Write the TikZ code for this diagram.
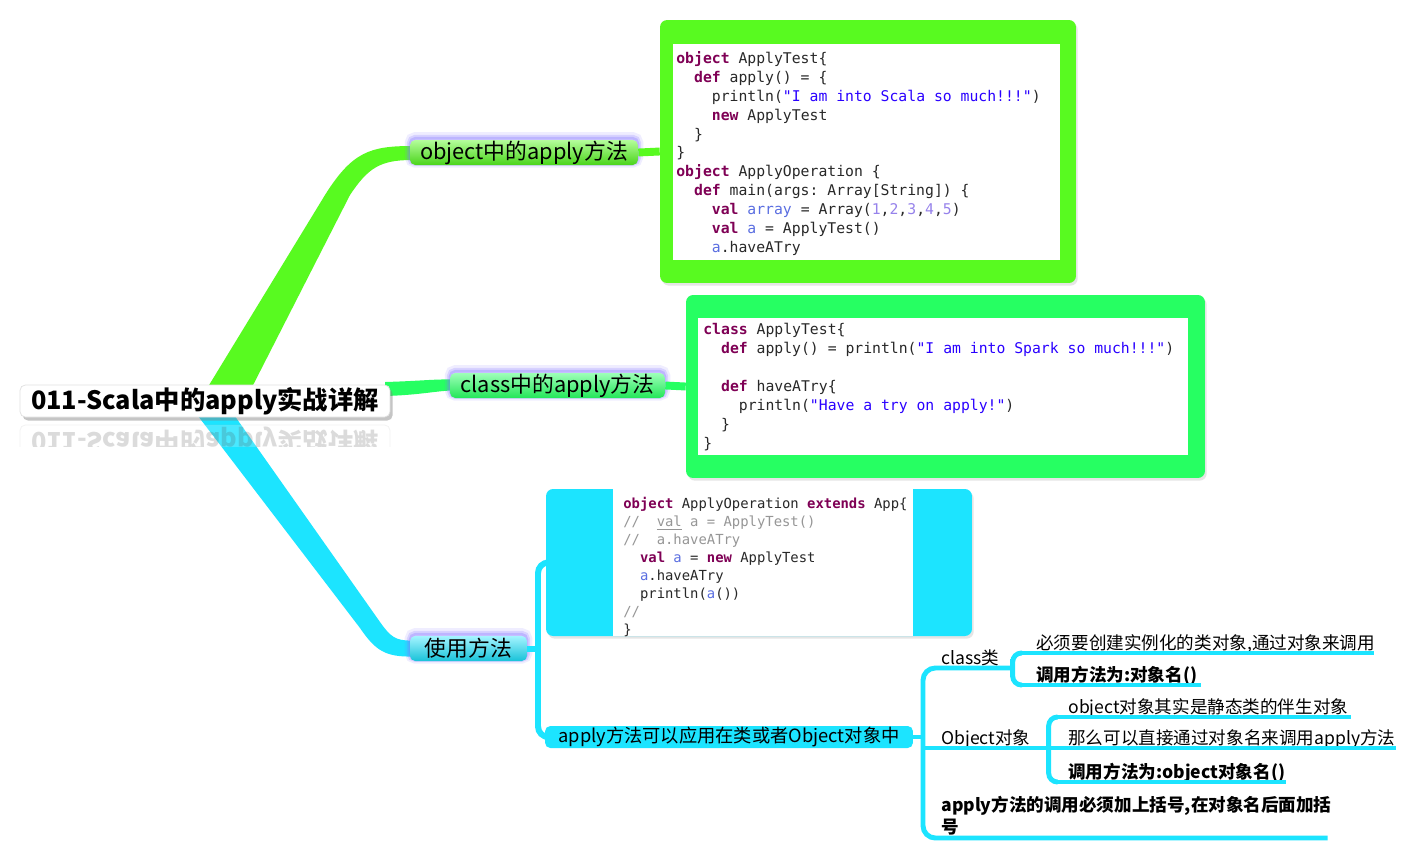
\documentclass[tikz,border=0pt]{standalone}
\usepackage{fontspec}
\setmainfont{Noto Sans CJK SC}
\setmonofont{DejaVu Sans Mono}
\usepackage{tikz}
\usetikzlibrary{positioning, calc, shadows}
\definecolor{grnA}{RGB}{88,250,32}
\definecolor{grnB}{RGB}{38,255,98}
\definecolor{cyn}{RGB}{28,228,255}
\definecolor{glowc}{RGB}{130,115,255}
\definecolor{kwc}{RGB}{127,0,85}
\definecolor{strc}{RGB}{42,0,255}
\definecolor{vrbc}{RGB}{90,110,225}
\definecolor{numc}{RGB}{150,130,235}
\definecolor{cmtc}{RGB}{150,150,150}
\definecolor{codec}{RGB}{40,40,40}
\newcommand{\kwd}[1]{\textcolor{kwc}{\bfseries #1}}
\newcommand{\strg}[1]{\textcolor{strc}{#1}}
\newcommand{\vrb}[1]{\textcolor{vrbc}{#1}}
\newcommand{\numb}[1]{\textcolor{numc}{#1}}
\newcommand{\cmt}[1]{\textcolor{cmtc}{#1}}
\tikzstyle{rootbox} = [rectangle, rounded corners=3pt, fill=white, minimum width=7.4cm, minimum height=0.64cm, inner sep=0pt, font=\fontsize{14.4}{17}\selectfont\bfseries]
\tikzstyle{topic} = [rectangle, rounded corners=3pt, minimum height=0.5cm, inner sep=0pt, font=\fontsize{12.4}{14}\selectfont, preaction={draw=glowc, line width=6pt, draw opacity=0.12, transform canvas={yshift=1.5pt}}, preaction={draw=glowc, line width=3.5pt, draw opacity=0.22, transform canvas={yshift=1.2pt}}, preaction={draw=glowc, line width=1.5pt, draw opacity=0.3, transform canvas={yshift=1pt}}]
\tikzstyle{codebox} = [rectangle, rounded corners=4pt, inner sep=0pt, drop shadow={opacity=0.2, shadow xshift=1pt, shadow yshift=-1.5pt}]
\tikzstyle{codetext} = [anchor=north west, inner sep=0pt, align=left, text=codec, font=\ttfamily\fontsize{8.4}{10.77}\selectfont]
\tikzstyle{leafbase} = [anchor=south west, inner ysep=0.4pt, align=left, font=\fontsize{10}{13}\selectfont]
\tikzstyle{leaf} = [leafbase, text depth=1.5pt]
\tikzstyle{leafb} = [leaf, font=\fontsize{10}{13}\selectfont\bfseries]
\tikzstyle{ul} = [cyn, line width=2.8pt]
\tikzstyle{link} = [line width=4.5pt]

\begin{document}
\begin{tikzpicture}[x=0.02cm, y=-0.02cm]
	\fill[white] (0,0) rectangle (1416,860);
	\useasboundingbox (0,0) rectangle (1416,860);

	\node (box1) [codebox, fill=grnA, minimum width=8.32cm, minimum height=5.26cm] at (868,151.5) {};
	\fill[white] (673,44) rectangle (1060,260);
	\node (code1) [codetext] at (676,51) {\kwd{object} ApplyTest\{\\
\ \ \kwd{def} apply() = \{\\
\ \ \ \ println(\strg{"I am into Scala so much!!!"})\\
\ \ \ \ \kwd{new} ApplyTest\\
\ \ \}\\
\}\\
\kwd{object} ApplyOperation \{\\
\ \ \kwd{def} main(args: Array[String]) \{\\
\ \ \ \ \kwd{val} \vrb{array} = Array(\numb{1},\numb{2},\numb{3},\numb{4},\numb{5})\\
\ \ \ \ \kwd{val} \vrb{a} = ApplyTest()\\
\ \ \ \ \vrb{a}.haveATry};

	\node (box2) [codebox, fill=grnB, minimum width=10.38cm, minimum height=3.66cm] at (945.5,386.5) {};
	\fill[white] (698,318) rectangle (1188,455);
	\node (code2) [codetext] at (703,323) {\kwd{class} ApplyTest\{\\
\ \ \kwd{def} apply() = println(\strg{"I am into Spark so much!!!"})\\
\mbox{}\\
\ \ \kwd{def} haveATry\{\\
\ \ \ \ println(\strg{"Have a try on apply!"})\\
\ \ \}\\
\}};

	\node (box3) [codebox, fill=cyn, minimum width=8.52cm, minimum height=2.94cm] at (759,562.5) {};
	\fill[white] (613,489) rectangle (913,636);
	\node (code3) [codetext, font=\ttfamily\fontsize{7.9}{10.2}\selectfont] at (623,497) {\kwd{object} ApplyOperation \kwd{extends} App\{\\
\cmt{//\ \ \underline{val} a = ApplyTest()}\\
\cmt{//\ \ a.haveATry}\\
\ \ \kwd{val} \vrb{a} = \kwd{new} ApplyTest\\
\ \ \vrb{a}.haveATry\\
\ \ println(\vrb{a}())\\
\cmt{//}\\
\}};

	\fill[grnA] (203,395) -- (325,195) .. controls (352,152) and (370,146) .. (412,146) -- (412,160) .. controls (380,160) and (368,168) .. (350,195) -- (248,395) -- cycle;
	\fill[grnB] (385,382) .. controls (420,381) and (435,379) .. (452,379.5) -- (452,390.5) .. controls (435,391) and (420,395) .. (385,396) -- cycle;
	\fill[cyn] (195,412) -- (360,628) .. controls (375,650) and (385,657) .. (412,656.5) -- (412,640.5) .. controls (395,641) and (390,636) .. (380,622) -- (232,412) -- cycle;

	\node (root) [rootbox, draw=black!12, drop shadow={opacity=0.45, shadow xshift=1.5pt, shadow yshift=-2pt}] at (205,401) {011-Scala中的apply实战详解};
	\begin{scope}
		\clip (16,421) rectangle (394,446);
		\begin{scope}[shift={(0,842)}, yscale=-1]
			\node (rootrefl) [rootbox, transform shape, draw=gray!50, text=black!70, opacity=0.2] at (205,401) {011-Scala中的apply实战详解};
		\end{scope}
	\end{scope}

	\node (l1) [topic, top color=grnA!45!white, bottom color=grnA!85!black, minimum width=4.56cm] at (524,152.5) {object中的apply方法};
	\node (l2) [topic, top color=grnB!45!white, bottom color=grnB!90!black, minimum width=4.3cm] at (557.5,385.5) {class中的apply方法};
	\node (l3) [topic, top color=cyn!40!white, bottom color=cyn!85!black, minimum width=2.34cm] at (468.5,648.5) {使用方法};
	\node (l4) [rectangle, rounded corners=3pt, fill=cyn, minimum width=7.36cm, minimum height=0.44cm, inner sep=0pt, font=\fontsize{10.4}{12}\selectfont] at (729,737) {apply方法可以应用在类或者Object对象中};

	\draw [link, grnA] (l1.east) -- (box1.west);
	\draw [link, grnB] (l2.east) -- (box2.west);
	\coordinate (j3) at (538,648.5);
	\draw [cyn, line width=3.4pt] (l3.east) -- (j3);
	\draw [cyn, line width=3.4pt, rounded corners=6pt] (box3.west) -| (j3) |- (l4.west);

	\node (cls) [leaf, text width=1.06cm, inner xsep=0.36cm] at (923,668) {class类};
	\node (c1a) [leaf, text width=6.46cm, inner xsep=0.28cm] at (1022,653) {必须要创建实例化的类对象,通过对象来调用};
	\node (c1b) [leafb, text width=3.0cm, inner xsep=0.28cm] at (1022,685) {调用方法为:对象名()};
	\node (obj) [leaf, text width=1.78cm, inner xsep=0.36cm] at (923,748) {Object对象};
	\node (o1) [leaf, text width=5.4cm, inner xsep=0.24cm] at (1056,717) {object对象其实是静态类的伴生对象};
	\node (o2) [leaf, text width=6.3cm, inner xsep=0.24cm] at (1056,748) {那么可以直接通过对象名来调用apply方法};
	\node (o3) [leafb, text width=4.1cm, inner xsep=0.24cm] at (1056,782) {调用方法为:object对象名()};
	\node (last) [leafbase, font=\fontsize{10}{13}\selectfont\bfseries, inner ysep=1.2pt, text width=7.36cm, inner xsep=0.36cm] at (923,838) {apply方法的调用必须加上括号,在对象名后面加括\\号};

	\coordinate (j4) at (923,737);
	\draw [ul] (l4.east) -- (j4);
	\draw [ul, rounded corners=7pt] (cls.south east) -- (cls.south west) -- (last.south west) -- (last.south east);
	\draw [ul, rounded corners=5pt] (c1a.south west) -| (cls.south east) |- (c1b.south west);
	\draw [ul, rounded corners=5pt] (o1.south west) -| (obj.south east) |- (o3.south west);
	\draw [ul] (obj.south west) -- (obj.south east) -- (o2.south west);
	\foreach \n in {c1a,c1b,o1,o2,o3}
		\draw [ul] (\n.south west) -- (\n.south east);

\end{tikzpicture}
\end{document}
